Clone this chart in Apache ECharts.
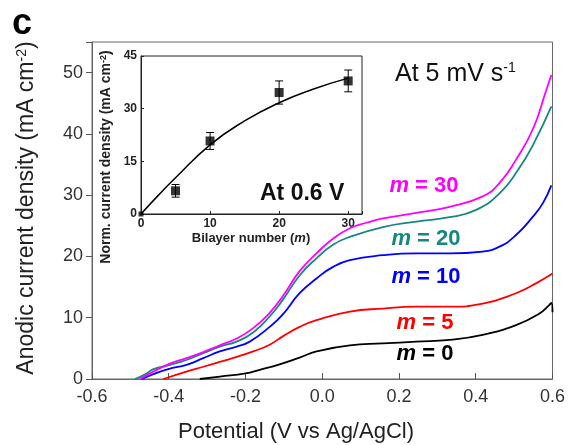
<!DOCTYPE html>
<html>
<head>
<meta charset="utf-8">
<script src="https://cdn.jsdelivr.net/npm/echarts@6/dist/echarts.min.js"></script>
<style>html,body{margin:0;padding:0;background:#fff;}#c{width:568px;height:445px;}</style>
</head>
<body>
<div id="c"></div>
<script>
// ---- Main panel data: [potential (V vs Ag/AgCl), anodic current density (mA cm^-2)] ----
const m30 = [[-0.475,0],[-0.44,1.2],[-0.397,2.5],[-0.354,3.4],[-0.31,4.4],[-0.267,5.5],[-0.223,6.6],[-0.18,8.3],[-0.137,10.8],[-0.102,13.6],[-0.059,17.6],[-0.015,20.5],[0.028,22.9],[0.072,24.6],[0.115,25.5],[0.158,26.2],[0.245,27.1],[0.332,28.1],[0.418,29.8],[0.462,32.0],[0.505,35.8],[0.549,40.8],[0.583,47.0],[0.597,49.6]];
const m20 = [[-0.488,0],[-0.46,0.8],[-0.44,1.6],[-0.397,2.3],[-0.354,3.1],[-0.31,4.2],[-0.267,5.3],[-0.223,6.1],[-0.18,7.6],[-0.137,10.2],[-0.102,13.0],[-0.059,16.9],[-0.015,19.7],[0.028,21.9],[0.072,23.2],[0.158,24.8],[0.245,25.7],[0.332,26.4],[0.401,27.6],[0.462,30.3],[0.51,34.1],[0.55,38.3],[0.597,44.5]];
const m10 = [[-0.47,0],[-0.44,0.8],[-0.397,1.7],[-0.354,2.3],[-0.31,3.4],[-0.267,4.5],[-0.223,5.3],[-0.189,6.1],[-0.137,8.5],[-0.102,10.6],[-0.059,14.0],[-0.015,16.4],[0.028,18.3],[0.072,19.4],[0.158,20.2],[0.245,20.5],[0.332,20.5],[0.418,20.8],[0.462,21.6],[0.505,23.5],[0.549,26.5],[0.575,28.7],[0.597,31.6]];
const m5  = [[-0.414,0],[-0.354,1.2],[-0.31,2.0],[-0.267,2.8],[-0.223,3.6],[-0.18,4.5],[-0.137,5.6],[-0.102,7.0],[-0.059,8.5],[-0.015,9.6],[0.072,11.0],[0.158,11.5],[0.245,11.8],[0.332,11.8],[0.418,12.3],[0.505,14.0],[0.557,15.6],[0.6,17.2]];
const m0  = [[-0.319,0],[-0.267,0.4],[-0.2,0.9],[-0.163,1.5],[-0.111,2.4],[-0.059,3.5],[-0.015,4.5],[0.072,5.5],[0.158,5.8],[0.245,6.1],[0.332,6.4],[0.418,7.2],[0.505,8.8],[0.566,10.7],[0.592,12.1],[0.597,12.4],[0.6,10.9]];

// ---- Inset data ----
const bilayer     = [0, 5, 10, 20, 30];
const normCurrent = [0, 6.6, 20.8, 34.6, 37.9];
const errBar      = [0, 1.8, 2.4, 3.3, 3.1];
const fitX = [0, 2.5, 5, 10, 15, 20, 25, 30];
const fitY = [0, 5.3, 10.3, 19.7, 26.5, 31.7, 35.6, 38.7];

// ---- Tick values ----
const xTicks = [-0.6, -0.4, -0.2, 0.0, 0.2, 0.4, 0.6];
const yTicks = [0, 10, 20, 30, 40, 50];
const insetXTicks = [0, 10, 20, 30];
const insetYTicks = [0, 15, 30, 45];

const FONT = "'Liberation Sans', Arial, Helvetica, sans-serif";
const chart = echarts.init(document.getElementById('c'));

function lineSeries(name, data, color) {
  return {
    name, type: 'line', xAxisIndex: 0, yAxisIndex: 0, data,
    showSymbol: false, smooth: 0.5, z: 3,
    lineStyle: { color, width: 1.8 }, itemStyle: { color }
  };
}

const option = {
  animation: false,
  backgroundColor: '#fff',
  textStyle: { fontFamily: FONT },
  grid: [
    { left: 92, top: 42, right: 15, bottom: 66, show: true, borderColor: '#666', borderWidth: 1 },
    { left: 141, top: 56, width: 221, height: 158, show: true, borderColor: '#222', borderWidth: 1, backgroundColor: '#fff' }
  ],
  xAxis: [
    {
      type: 'value', gridIndex: 0, min: xTicks[0], max: xTicks[xTicks.length - 1], interval: 0.2,
      axisLine: { lineStyle: { color: '#666', width: 1 } },
      axisTick: { inside: true, length: 6, lineStyle: { color: '#555' } },
      axisLabel: { fontSize: 18, color: '#333', margin: 9, fontFamily: FONT,
        formatter: v => (Math.abs(v) < 1e-9 ? '0.0' : v.toFixed(1)) },
      splitLine: { show: false }
    },
    {
      type: 'value', gridIndex: 1, min: 0, max: 32, interval: 10,
      axisLine: { lineStyle: { color: '#222', width: 1 } },
      axisTick: { inside: true, length: 3, lineStyle: { color: '#222' } },
      axisLabel: { fontSize: 12, fontWeight: 'bold', color: '#222', margin: 4, fontFamily: FONT,
        formatter: v => (insetXTicks.includes(v) ? String(v) : '') },
      splitLine: { show: false }
    }
  ],
  yAxis: [
    {
      type: 'value', gridIndex: 0, min: 0, max: 55, interval: 10,
      axisLine: { show: true, onZero: false, lineStyle: { color: '#666', width: 1 } },
      axisTick: { show: true, inside: false, length: 6, lineStyle: { color: '#555' } },
      axisLabel: { fontSize: 18, color: '#333', margin: 9, fontFamily: FONT,
        formatter: v => (yTicks.includes(Math.round(v)) && Math.abs(v - Math.round(v)) < 1e-9 ? String(Math.round(v)) : '') },
      splitLine: { show: false }
    },
    {
      type: 'value', gridIndex: 1, min: 0, max: 45, interval: 15,
      axisLine: { show: true, onZero: false, lineStyle: { color: '#222', width: 1 } },
      axisTick: { show: true, inside: true, length: 3, lineStyle: { color: '#222' } },
      axisLabel: { fontSize: 12, fontWeight: 'bold', color: '#222', margin: 4, fontFamily: FONT,
        formatter: v => (insetYTicks.includes(v) ? String(v) : '') },
      splitLine: { show: false }
    }
  ],
  series: [
    lineSeries('m = 0', m0, '#000000'),
    lineSeries('m = 5', m5, '#ff0000'),
    lineSeries('m = 10', m10, '#0000ff'),
    lineSeries('m = 20', m20, '#17877f'),
    lineSeries('m = 30', m30, '#ff00ff'),
    {
      type: 'line', xAxisIndex: 1, yAxisIndex: 1, z: 4,
      data: fitX.map((x, i) => [x, fitY[i]]),
      showSymbol: false, smooth: true,
      lineStyle: { color: '#000', width: 1.5 }
    },
    {
      type: 'custom', xAxisIndex: 1, yAxisIndex: 1, z: 5,
      data: bilayer.map((b, i) => [b, normCurrent[i] - errBar[i], normCurrent[i] + errBar[i]]).filter(d => d[2] - d[1] > 0),
      renderItem: function (params, api) {
        const x = api.value(0);
        const lo = api.coord([x, api.value(1)]);
        const hi = api.coord([x, api.value(2)]);
        const w = 4;
        const st = { stroke: '#000', lineWidth: 1 };
        return {
          type: 'group',
          children: [
            { type: 'line', shape: { x1: lo[0], y1: lo[1], x2: hi[0], y2: hi[1] }, style: st },
            { type: 'line', shape: { x1: lo[0] - w, y1: lo[1], x2: lo[0] + w, y2: lo[1] }, style: st },
            { type: 'line', shape: { x1: hi[0] - w, y1: hi[1], x2: hi[0] + w, y2: hi[1] }, style: st }
          ]
        };
      }
    },
    {
      type: 'scatter', xAxisIndex: 1, yAxisIndex: 1, z: 6,
      symbol: 'rect',
      data: bilayer.map((b, i) => ({ value: [b, normCurrent[i]], symbolSize: b === 0 ? 5 : 9 })),
      itemStyle: { color: '#000' }
    }
  ],
  graphic: [
    { type: 'text', x: 12, y: 24, z: 10, style: { text: 'c', font: "bold 36px " + FONT, fill: '#000', align: 'left', verticalAlign: 'middle' } },
    { type: 'text', x: 395, y: 74, z: 10, style: { text: 'At 5 mV s{sup|-1}', font: "25px " + FONT, fill: '#111', align: 'left', verticalAlign: 'middle',
        rich: { sup: { fontSize: 14, fontFamily: FONT, verticalAlign: 'top', fill: '#111' } } } },
    { type: 'text', x: 260, y: 194, z: 10, style: { text: 'At 0.6 V', font: "bold 23px " + FONT, fill: '#111', align: 'left', verticalAlign: 'middle' } },
    { type: 'text', x: 424, y: 186, z: 10, style: { text: '{i|m} = 30', font: "bold 22px " + FONT, fill: '#ff00ff', align: 'center', verticalAlign: 'middle',
        rich: { i: { fontStyle: 'italic', fontWeight: 'bold', fontSize: 22, fontFamily: FONT, fill: '#ff00ff' } } } },
    { type: 'text', x: 426, y: 239, z: 10, style: { text: '{i|m} = 20', font: "bold 22px " + FONT, fill: '#17877f', align: 'center', verticalAlign: 'middle',
        rich: { i: { fontStyle: 'italic', fontWeight: 'bold', fontSize: 22, fontFamily: FONT, fill: '#17877f' } } } },
    { type: 'text', x: 426, y: 277, z: 10, style: { text: '{i|m} = 10', font: "bold 22px " + FONT, fill: '#0000ff', align: 'center', verticalAlign: 'middle',
        rich: { i: { fontStyle: 'italic', fontWeight: 'bold', fontSize: 22, fontFamily: FONT, fill: '#0000ff' } } } },
    { type: 'text', x: 425, y: 323, z: 10, style: { text: '{i|m} = 5', font: "bold 22px " + FONT, fill: '#ff0000', align: 'center', verticalAlign: 'middle',
        rich: { i: { fontStyle: 'italic', fontWeight: 'bold', fontSize: 22, fontFamily: FONT, fill: '#ff0000' } } } },
    { type: 'text', x: 425, y: 354, z: 10, style: { text: '{i|m} = 0', font: "bold 22px " + FONT, fill: '#000', align: 'center', verticalAlign: 'middle',
        rich: { i: { fontStyle: 'italic', fontWeight: 'bold', fontSize: 22, fontFamily: FONT, fill: '#000' } } } },
    { type: 'text', x: 296, y: 432, z: 10, style: { text: 'Potential (V vs Ag/AgCl)', font: "22px " + FONT, fill: '#222', align: 'center', verticalAlign: 'middle' } },
    { type: 'text', x: 27, y: 208, rotation: Math.PI / 2, z: 10, style: { text: 'Anodic current density (mA cm{sup|-2})', font: "23px " + FONT, fill: '#222', align: 'center', verticalAlign: 'middle',
        rich: { sup: { fontSize: 14, fontFamily: FONT, verticalAlign: 'top', fill: '#222' } } } },
    { type: 'text', x: 251, y: 238, z: 10, style: { text: 'Bilayer number ({i|m})', font: "bold 13px " + FONT, fill: '#222', align: 'center', verticalAlign: 'middle',
        rich: { i: { fontStyle: 'italic', fontWeight: 'bold', fontSize: 13, fontFamily: FONT, fill: '#222' } } } },
    { type: 'text', x: 106, y: 157, rotation: Math.PI / 2, z: 10, style: { text: 'Norm. current density (mA cm{sup|-2})', font: "bold 14px " + FONT, fill: '#222', align: 'center', verticalAlign: 'middle',
        rich: { sup: { fontSize: 9, fontWeight: 'bold', fontFamily: FONT, verticalAlign: 'top', fill: '#222' } } } }
  ]
};
chart.setOption(option);
</script>
</body>
</html>
